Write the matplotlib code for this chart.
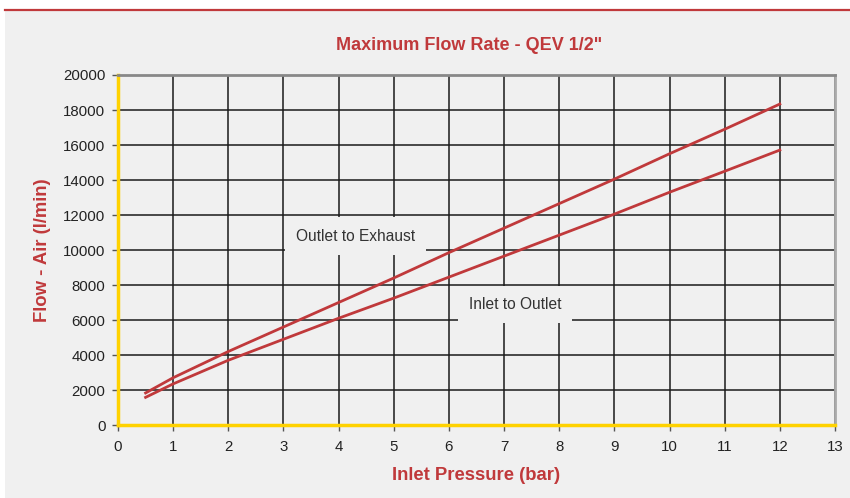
import matplotlib
matplotlib.use("Agg")
import matplotlib.pyplot as plt
from matplotlib.patches import Rectangle
from matplotlib.lines import Line2D

plt.rcParams['font.family'] = ['Liberation Sans', 'DejaVu Sans']

pressure = [0.5, 1, 2, 3, 4, 5, 6, 7, 8, 9, 10, 11, 12]
outlet_to_exhaust = [1830, 2700, 4200, 5600, 7000, 8400, 9850, 11250, 12650, 14050, 15500, 16900, 18340]
inlet_to_outlet = [1580, 2350, 3700, 4900, 6100, 7250, 8450, 9650, 10850, 12050, 13300, 14500, 15710]
x_ticks = list(range(0, 14))
y_ticks = list(range(0, 20001, 2000))

RED = '#c0393b'
BG = '#f0f0f0'
YELLOW = '#ffd200'

fig = plt.figure(figsize=(8.5, 4.98), dpi=100, facecolor='white')
fig.patches.append(Rectangle((5/850, 0), 1 - 5/850, (498 - 11)/498, transform=fig.transFigure,
                             facecolor=BG, edgecolor='none', zorder=-10))
fig.lines.append(Line2D([5/850, 1], [(498 - 10.5)/498] * 2, transform=fig.transFigure,
                        color=RED, lw=1.6, zorder=-5))

ax = fig.add_axes([118/850, 73/498, (835 - 118)/850, (425 - 75)/498])
ax.set_facecolor(BG)
ax.set_xlim(0, 13)
ax.set_ylim(0, 20000)
ax.set_xticks(x_ticks)
ax.set_yticks(y_ticks)
ax.grid(True, color='#1a1a1a', lw=1.1)
ax.set_axisbelow(True)

ax.plot(pressure, outlet_to_exhaust, color=RED, lw=2.0, zorder=3)
ax.plot(pressure, inlet_to_outlet, color=RED, lw=2.0, zorder=3)

box = dict(facecolor=BG, edgecolor='none', pad=8)
ax.text(4.30, 10800, 'Outlet to Exhaust', ha='center', va='center', fontsize=11.2,
        color='#333333', bbox=box, zorder=4)
ax.text(7.20, 6900, 'Inlet to Outlet', ha='center', va='center', fontsize=11.2,
        color='#333333', bbox=box, zorder=4)

for s in ['left', 'bottom']:
    ax.spines[s].set_color(YELLOW)
    ax.spines[s].set_linewidth(2.5)
ax.spines['top'].set_color('#888888')
ax.spines['top'].set_linewidth(2)
ax.spines['right'].set_color('#aaaaaa')
ax.spines['right'].set_linewidth(2)
ax.tick_params(axis='both', colors='#555555', labelcolor='#222222', labelsize=10.8,
               length=4, width=1, direction='out')
ax.tick_params(axis='x', pad=7)
ax.tick_params(axis='y', pad=5)

ax.set_xlabel('Inlet Pressure (bar)', color=RED, fontsize=13.3, fontweight='bold', labelpad=9)
ax.set_ylabel('Flow - Air (l/min)', color=RED, fontsize=13.3, fontweight='bold', labelpad=9)
fig.text(469/850, (498 - 45)/498, 'Maximum Flow Rate - QEV 1/2"', ha='center', va='center',
         color=RED, fontsize=13, fontweight='bold')

fig.savefig('out.png', dpi=100, facecolor=fig.get_facecolor())
